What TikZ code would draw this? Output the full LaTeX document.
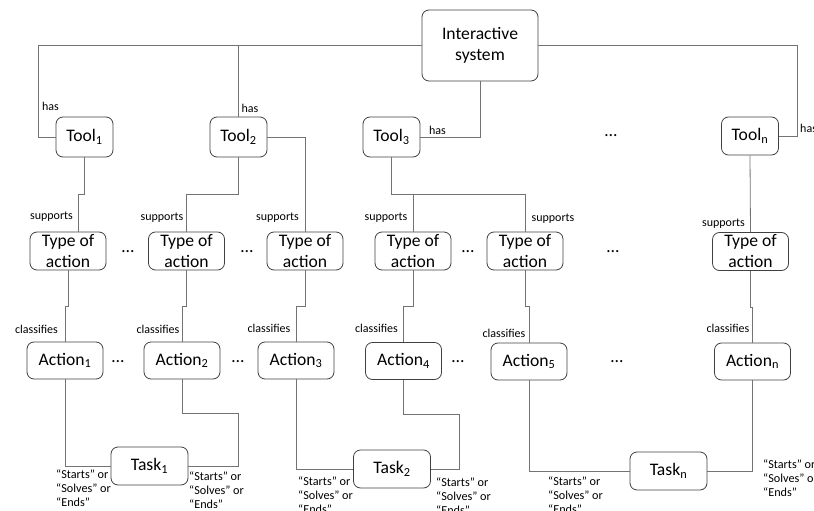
\documentclass[tikz,border=0pt]{standalone}
\usepackage{fontspec}
\setmainfont{Carlito}
\usetikzlibrary{positioning}

\begin{document}
\begin{tikzpicture}[x=1pt,y=-1pt,
  box/.style={draw=black!75,line width=0.8pt,rounded corners=7pt,align=center,
    inner sep=0pt,font=\fontsize{17.6}{21}\selectfont},
  toolbox/.style={box,minimum width=57pt,minimum height=40pt},
  toabox/.style={box,minimum width=76pt,minimum height=38pt},
  actbox/.style={box,minimum width=76pt,minimum height=37pt},
  taskbox/.style={box,minimum width=77pt,minimum height=38pt},
  link/.style={draw=black!55,line width=0.8pt},
  lbl/.style={inner sep=0pt,font=\fontsize{12}{14}\selectfont},
  qlbl/.style={lbl,align=left,anchor=west,font=\fontsize{12.2}{14}\selectfont},
  more/.style={inner sep=0pt,font=\fontsize{17.6}{21}\selectfont}]
\useasboundingbox (0,0) rectangle (814,511);
% boxes
\node[box,minimum width=116pt,minimum height=71pt] (sys) at (480,45.5) {Interactive\\system};
\node[toolbox] (tool1) at (84.5,137) {Tool\textsubscript{1}};
\node[toolbox] (tool2) at (238.5,137) {Tool\textsubscript{2}};
\node[toolbox] (tool3) at (391.5,137) {Tool\textsubscript{3}};
\node[toolbox,minimum height=38pt] (tooln) at (750,136) {Tool\textsubscript{n}};
\node[toabox] (toa1) at (68,251) {Type of\\action};
\node[toabox] (toa2) at (186.5,251) {Type of\\action};
\node[toabox] (toa3) at (305,251) {Type of\\action};
\node[toabox] (toa4) at (413,251) {Type of\\action};
\node[toabox] (toa5) at (525,251) {Type of\\action};
\node[toabox] (toan) at (750.5,251.5) {Type of\\action};
\node[actbox] (act1) at (65,360.5) {Action\textsubscript{1}};
\node[actbox] (act2) at (182,360.5) {Action\textsubscript{2}};
\node[actbox] (act3) at (296,360.5) {Action\textsubscript{3}};
\node[actbox] (act4) at (403.5,361) {Action\textsubscript{4}};
\node[actbox] (act5) at (529,361.5) {Action\textsubscript{5}};
\node[actbox] (actn) at (752.5,361.5) {Action\textsubscript{n}};
\node[taskbox] (task1) at (149.5,466) {Task\textsubscript{1}};
\node[taskbox] (task2) at (392,469) {Task\textsubscript{2}};
\node[taskbox] (taskn) at (668.5,471) {Task\textsubscript{n}};
% dots
\node[more] (d0) at (611,136) {\dots};
\node[more] (d1) at (128,252) {\dots};
\node[more] (d2) at (247,252) {\dots};
\node[more] (d3) at (468,252) {\dots};
\node[more] (d4) at (613,252) {\dots};
\node[more] (d5) at (118,362) {\dots};
\node[more] (d6) at (238,362) {\dots};
\node[more] (d7) at (458,362) {\dots};
\node[more] (d8) at (617,362) {\dots};
% has
\draw[link] (sys.west) -| ([xshift=-17pt]tool1.west) -- (tool1.west);
\draw[link] (sys.west) -| (tool2.north);
\draw[link] (sys.south) |- (tool3.east);
\draw[link] (sys.east) -| ([xshift=18pt]tooln.east) -- (tooln.east);
\node[lbl] (has1) at (50.5,106) {has};
\node[lbl] (has2) at (250,108) {has};
\node[lbl] (has3) at (437.5,130) {has};
\node[lbl,anchor=west] (hasn) at (800,128) {has};
% supports
\draw[link] (tool1.south) -- ++(0,37) -| ([xshift=10pt]toa1.north);
\draw[link] (tool2.south) -- ++(0,37) -| (toa2.north);
\draw[link] (tool2.east) -| (toa3.north);
\draw[link] (tool3.south) -- ++(0,37) -| (toa4.north);
\draw[link] (tool3.south) -- ++(0,37) -| (toa5.north);
\draw[link] (tooln.south) -- (toan.north);
\node[lbl] (sup1) at (51.5,217) {supports};
\node[lbl] (sup2) at (162,218) {supports};
\node[lbl] (sup3) at (277.5,218) {supports};
\node[lbl] (sup4) at (386,218) {supports};
\node[lbl] (sup5) at (553,219) {supports};
\node[lbl] (supn) at (723.5,224) {supports};
% classifies
\draw[link] (toa1.south) -- ++(0,36) -| (act1.north);
\draw[link] (toa2.south) -- ++(0,36) -| (act2.north);
\draw[link] (toa3.south) -- ++(0,36) -| (act3.north);
\draw[link] (toa4.south) -- ++(0,36) -| (act4.north);
\draw[link] (toa5.south) -- ++(0,36) -| (act5.north);
\draw[link] (toan.south) -- ++(0,36) -| (actn.north);
\node[lbl] (cls1) at (36.5,329) {classifies};
\node[lbl] (cls2) at (158,329) {classifies};
\node[lbl] (cls3) at (269,328) {classifies};
\node[lbl] (cls4) at (376.5,328) {classifies};
\node[lbl] (cls5) at (504,333) {classifies};
\node[lbl] (clsn) at (728,328) {classifies};
% starts / solves / ends
\draw[link] (act1.south) |- (task1.west);
\draw[link] (act2.south) -- ++(0,34) -| ([xshift=50pt]task1.east) -- (task1.east);
\draw[link] (act3.south) |- (task2.west);
\draw[link] (act4.south) -- ++(0,34) -| ([xshift=28pt]task2.east) -- (task2.east);
\draw[link] (act5.south) |- (taskn.west);
\draw[link] (actn.south) |- (taskn.east);
\node[qlbl] (sse1) at (56,488) {“Starts” or\\“Solves” or\\“Ends”};
\node[qlbl] (sse2) at (189,490) {“Starts” or\\“Solves” or\\“Ends”};
\node[qlbl] (sse3) at (298,495) {“Starts” or\\“Solves” or\\“Ends”};
\node[qlbl] (sse4) at (436,496) {“Starts” or\\“Solves” or\\“Ends”};
\node[qlbl] (sse5) at (548,495) {“Starts” or\\“Solves” or\\“Ends”};
\node[qlbl] (ssen) at (763,478) {“Starts” or\\“Solves” or\\“Ends”};
\end{tikzpicture}
\end{document}
